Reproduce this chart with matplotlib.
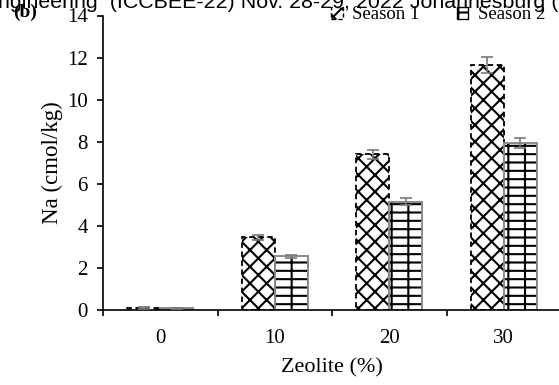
import matplotlib

matplotlib.use("Agg")
import matplotlib.pyplot as plt
import numpy as np

categories = ["0", "10", "20", "30"]
season1 = [0.08, 3.45, 7.4, 11.65]
season2 = [0.08, 2.55, 5.15, 7.95]
season1_err = [0.05, 0.12, 0.22, 0.4]
season2_err = [0.03, 0.08, 0.18, 0.25]

plt.rcParams["font.family"] = ["Liberation Serif", "DejaVu Serif"]
plt.rcParams["hatch.linewidth"] = 1.5

fig = plt.figure(figsize=(5.59, 3.85), dpi=100)
ax = fig.add_axes([103 / 559, 75 / 385, 458 / 559, 294.5 / 385])

x = np.arange(len(categories))
w = 0.29
err_kw = dict(ecolor="#7a7a7a", capsize=4.5, elinewidth=1.2, capthick=1.2)

ax.bar(x - w / 2, season1, w, color="white", edgecolor="black", hatch="xx",
       linewidth=1.3, linestyle=(0, (3, 2)), zorder=2)
ax.errorbar(x - w / 2, season1, yerr=season1_err, fmt="none", zorder=3, **err_kw)

ax.bar(x + w / 2, season2, w, color="white", edgecolor="black", hatch="+-",
       linewidth=0, zorder=2)
ax.bar(x + w / 2, season2, w, fill=False, edgecolor="#8a8a8a", linewidth=1.4, zorder=2.5)
ax.errorbar(x + w / 2, season2, yerr=season2_err, fmt="none", zorder=3, **err_kw)

ax.set_xlim(-0.5, 3.5)
ax.set_ylim(0, 14)
ax.set_yticks(range(0, 15, 2))
ax.set_xticks(np.arange(-0.5, 3.5, 1.0))
ax.set_xticklabels([])
ax.set_xticks(x, minor=True)
ax.set_xticklabels(categories, minor=True)
ax.tick_params(axis="x", which="minor", length=0, pad=14, labelsize=15)
ax.tick_params(axis="x", which="major", direction="out", length=4, width=1.2)
ax.tick_params(axis="y", direction="out", length=4, width=1.2, labelsize=15, pad=7)
for s in ("top", "right"):
    ax.spines[s].set_visible(False)
ax.spines["left"].set_linewidth(1.2)
ax.spines["bottom"].set_linewidth(1.2)

ax.set_xlabel("Zeolite (%)", fontsize=16)
ax.xaxis.set_label_coords(229 / 458, -48 / 294.5)
ax.set_ylabel("Na (cmol/kg)", fontsize=16.5)
ax.yaxis.set_label_coords(-40 / 458, 0.5)

# header text from the page above the figure
fig.text(-2 / 559, 1 - 8 / 385, "ngineering  (ICCBEE-22) Nov. 28-29, 2022 Johannesburg (",
         fontsize=15.4, family=["Liberation Sans", "DejaVu Sans"], va="baseline", ha="left")
fig.text(13 / 559, 1 - 17 / 385, "(b)", fontsize=14, fontweight="bold", va="baseline")

h1 = plt.Rectangle((0, 0), 1, 1, facecolor="white", edgecolor="black", hatch="xx",
                   linestyle=(0, (3, 2)), linewidth=1)
h2 = plt.Rectangle((0, 0), 1, 1, facecolor="white", edgecolor="black", hatch="+-", linewidth=1)
fig.legend([h1, h2], ["Season 1", "Season 2"], loc="upper left", ncol=2, frameon=False,
           bbox_to_anchor=(322 / 559, 1 + 3 / 385), fontsize=13.5, handlelength=0.6,
           handleheight=0.6, handletextpad=0.5, columnspacing=2.0, borderpad=0)

fig.savefig("out.png", dpi=100)
